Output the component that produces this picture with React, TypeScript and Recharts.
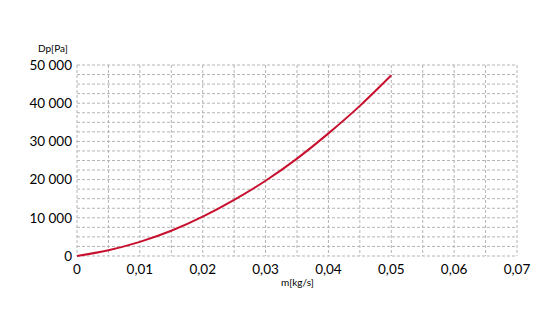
import React from 'react';
import { LineChart, Line, XAxis, YAxis, CartesianGrid } from 'recharts';

const massFlow = [0, 0.005, 0.01, 0.015, 0.02, 0.025, 0.03, 0.035, 0.04, 0.045, 0.05];
const pressureDrop = [0, 1500, 3700, 6600, 10300, 14700, 19700, 25500, 32100, 39300, 47300];
const xTicks = [0, 0.01, 0.02, 0.03, 0.04, 0.05, 0.06, 0.07];
const xMinorTicks = [0, 0.005, 0.01, 0.015, 0.02, 0.025, 0.03, 0.035, 0.04, 0.045, 0.05, 0.055, 0.06, 0.065, 0.07];
const yTicks = [0, 10000, 20000, 30000, 40000, 50000];
const yMinorTicks = [0, 2500, 5000, 7500, 10000, 12500, 15000, 17500, 20000, 22500, 25000, 27500, 30000, 32500, 35000, 37500, 40000, 42500, 45000, 47500, 50000];

const data = massFlow.map((m, i) => ({ m, dp: pressureDrop[i] }));

const fmtX = (v: number) => (v === 0 ? '0' : v.toFixed(2).replace('.', ','));
const fmtY = (v: number) => (v === 0 ? '0' : String(v).replace(/\B(?=(\d{3})+(?!\d))/g, ' '));

const FONT = 'Lato, "Open Sans", sans-serif';

const applyScale = (s: any, t: number): number | null => {
  if (!s) return null;
  if (typeof s === 'function') return s(t);
  if (typeof s.map === 'function') return s.map(t);
  if (typeof s.scale === 'function') return s.scale(t);
  return null;
};

const vGen = (props: any) => {
  const s = props?.xAxis?.scale;
  const out = xMinorTicks.map((t) => applyScale(s, t)).filter((v) => typeof v === 'number' && !isNaN(v as number));
  return out as number[];
};
const hGen = (props: any) => {
  const s = props?.yAxis?.scale;
  const out = yMinorTicks.map((t) => applyScale(s, t)).filter((v) => typeof v === 'number' && !isNaN(v as number));
  return out as number[];
};

export default function App() {
  return (
    <div style={{ position: 'relative', width: 560, height: 328 }}>
      <LineChart width={560} height={328} data={data} margin={{ top: 57, right: 51, bottom: 50, left: 0 }}>
        <CartesianGrid
          stroke="#b4b4b4"
          strokeDasharray="3 2"
          verticalCoordinatesGenerator={vGen}
          horizontalCoordinatesGenerator={hGen}
        />
        <XAxis
          type="number"
          dataKey="m"
          domain={[0, 0.07]}
          ticks={xTicks}
          tickFormatter={fmtX}
          axisLine={false}
          tickLine={false}
          tickSize={0}
          tickMargin={8}
          height={30}
          interval={0}
          tick={{ fill: '#000', fontSize: 13.5, fontFamily: FONT }}
        />
        <YAxis
          type="number"
          domain={[0, 50000]}
          ticks={yTicks}
          tickFormatter={fmtY}
          axisLine={false}
          tickLine={false}
          tickSize={0}
          tickMargin={5}
          width={69}
          interval={0}
          tick={{ fill: '#000', fontSize: 13.5, fontFamily: FONT }}
        />
        <Line
          type="monotone"
          dataKey="dp"
          stroke="#c8102e"
          strokeWidth={2}
          dot={false}
          isAnimationActive={false}
        />
      </LineChart>
      <div style={{ position: 'absolute', left: 30, top: 34, fontFamily: FONT, fontSize: 10, color: '#000' }}>Dp[Pa]</div>
      <div style={{ position: 'absolute', left: 273, top: 268, fontFamily: FONT, fontSize: 10, color: '#000' }}>m[kg/s]</div>
    </div>
  );
}
